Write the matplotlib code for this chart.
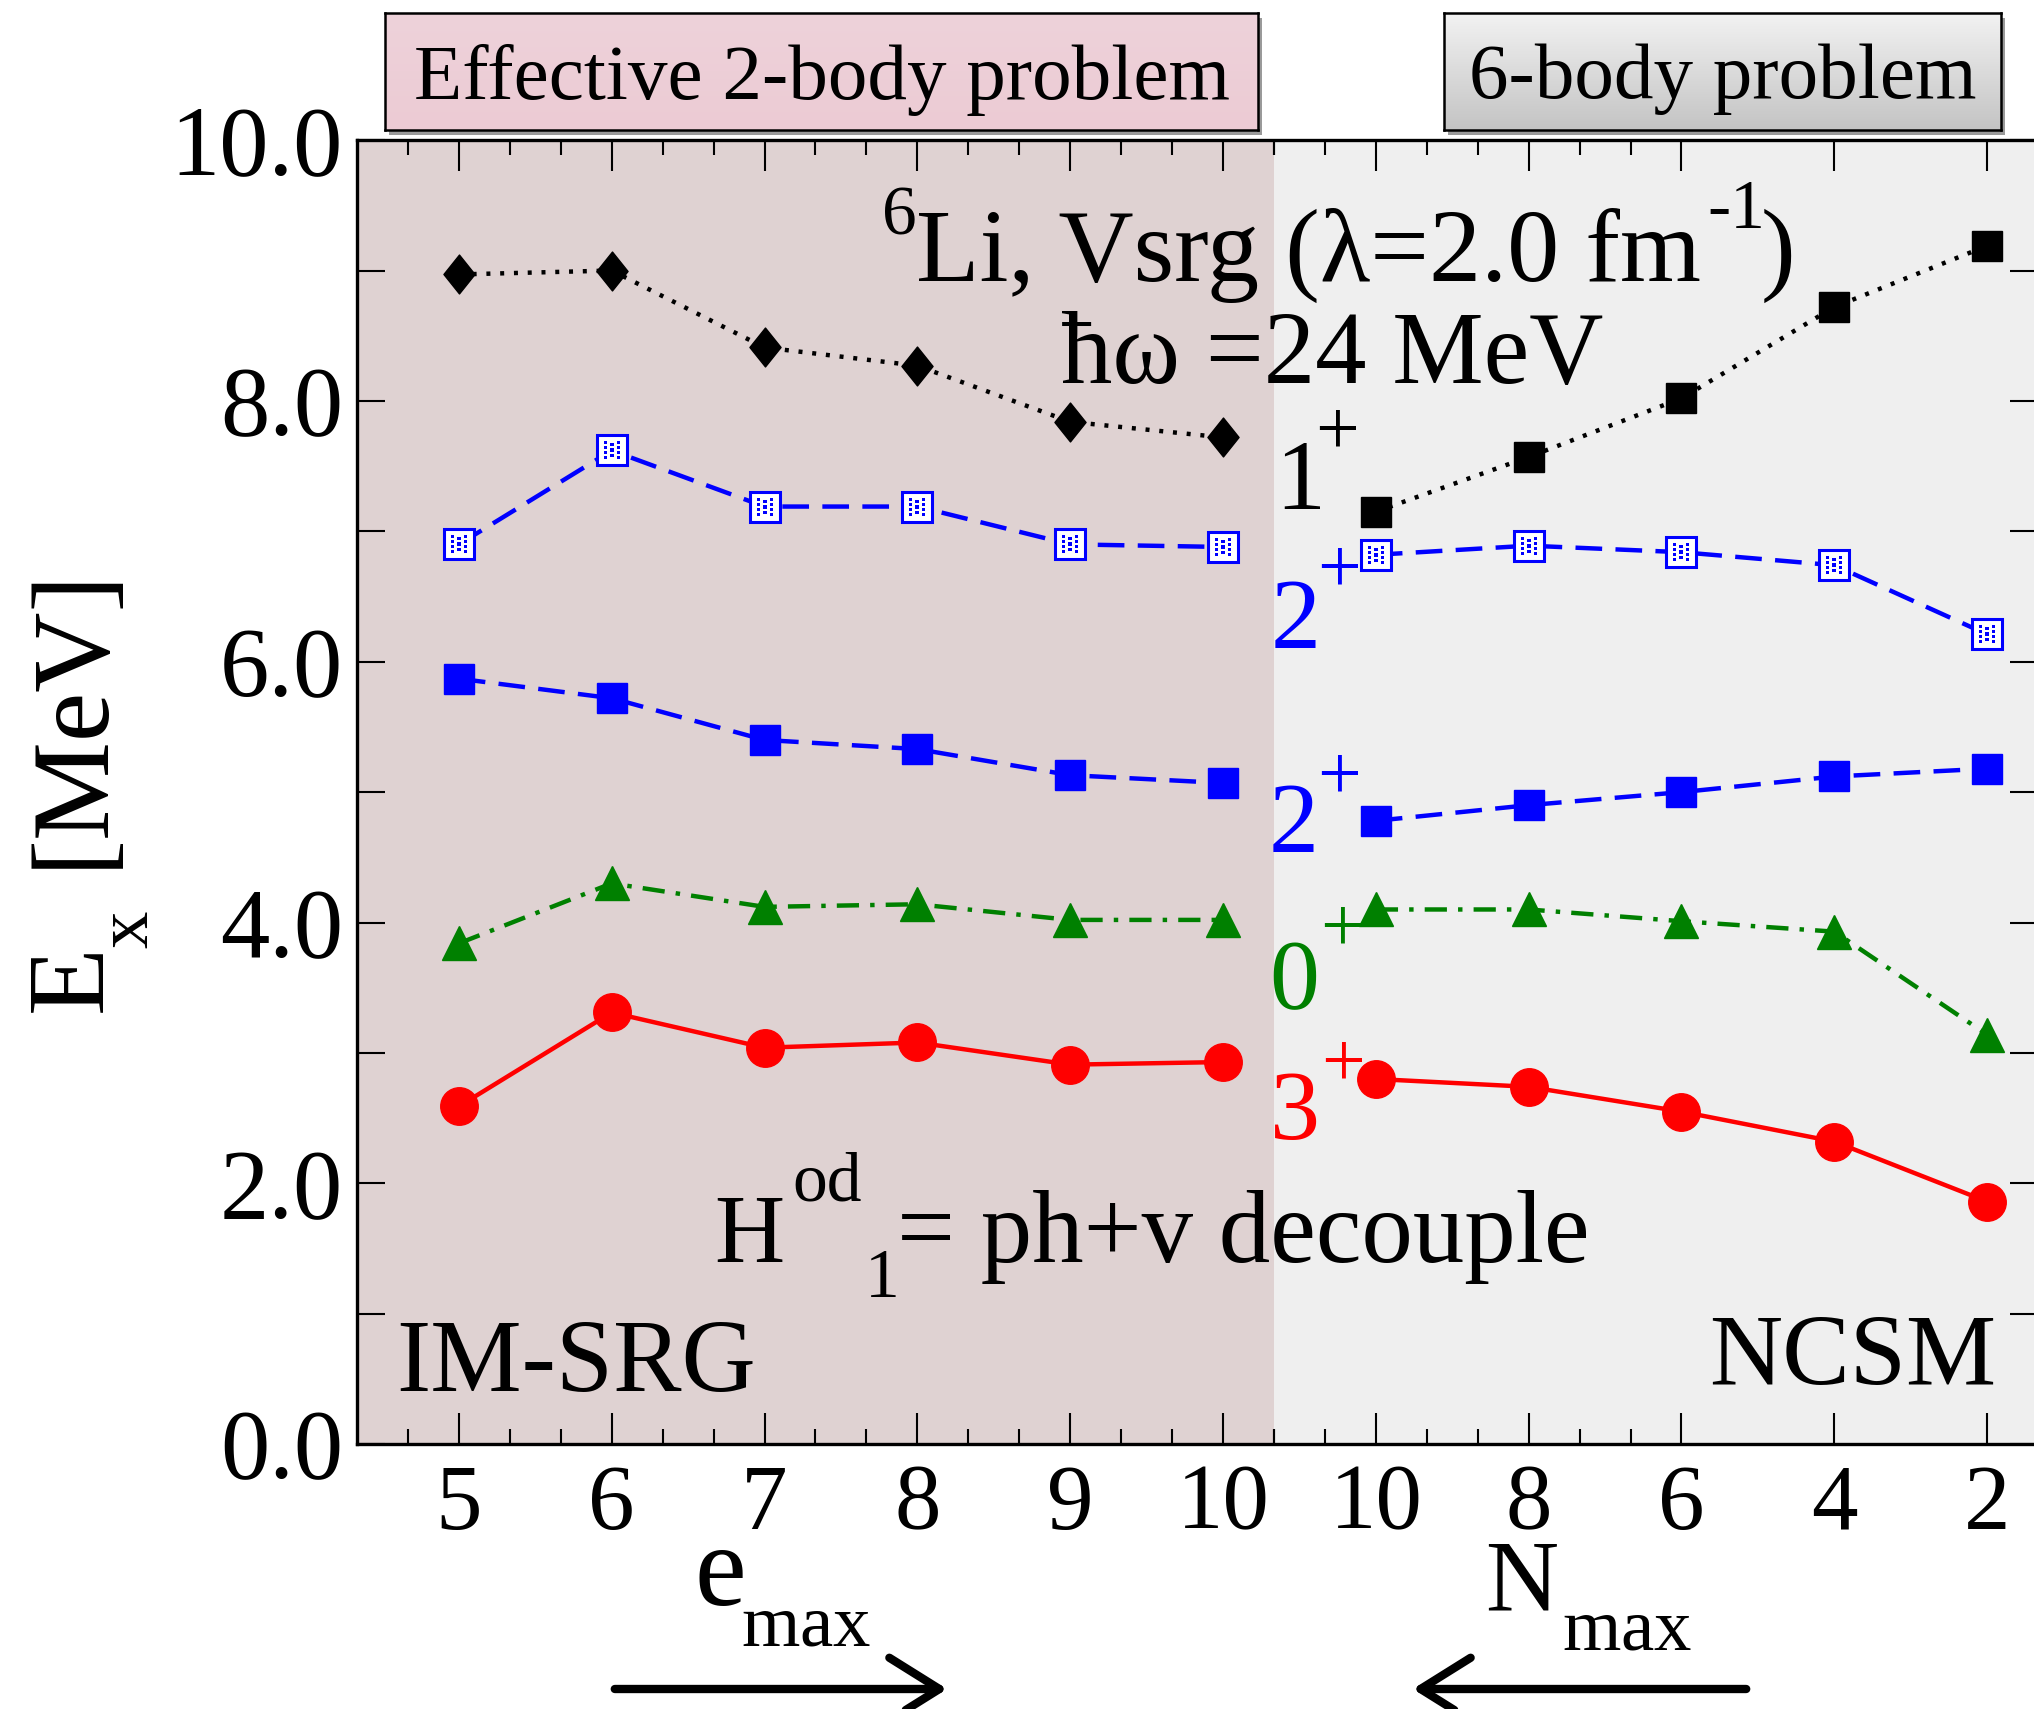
import matplotlib

matplotlib.use("Agg")
import matplotlib.pyplot as plt
import numpy as np
from matplotlib.path import Path
from matplotlib.patches import Rectangle, FancyArrowPatch

plt.rcParams["font.family"] = ["Liberation Serif", "DejaVu Serif"]
plt.rcParams["mathtext.fontset"] = "custom"
plt.rcParams["mathtext.rm"] = "Liberation Serif"
plt.rcParams["mathtext.it"] = "Liberation Serif:italic"
plt.rcParams["mathtext.bf"] = "Liberation Serif:bold"

# x categories: IM-SRG e_max (left) then NCSM N_max (right)
emax = [5, 6, 7, 8, 9, 10]
nmax = [10, 8, 6, 4, 2]
tick_labels = [str(v) for v in emax + nmax]

# IM-SRG excitation energies (MeV)
imsrg_1p = [8.97, 9.00, 8.41, 8.27, 7.84, 7.72]
imsrg_2p_b = [6.90, 7.62, 7.19, 7.19, 6.90, 6.88]
imsrg_2p_a = [5.87, 5.72, 5.40, 5.33, 5.13, 5.07]
imsrg_0p = [3.84, 4.30, 4.12, 4.14, 4.02, 4.02]
imsrg_3p = [2.59, 3.31, 3.04, 3.08, 2.91, 2.93]

# NCSM excitation energies (MeV)
ncsm_1p = [7.15, 7.57, 8.02, 8.72, 9.19]
ncsm_2p_b = [6.82, 6.89, 6.84, 6.74, 6.21]
ncsm_2p_a = [4.78, 4.90, 5.00, 5.12, 5.18]
ncsm_0p = [4.10, 4.10, 4.01, 3.93, 3.14]
ncsm_3p = [2.80, 2.74, 2.55, 2.32, 1.86]

LEFT_BG = "#dfd2d2"
RIGHT_BG = "#efefef"
W, H = 2034, 1709


def dots_marker():
    verts, codes = [], []
    d = 0.06
    for cx, cy in [(-0.25, -0.3), (0.0, -0.2), (0.25, -0.3), (-0.25, -0.1), (0.0, 0.0),
                   (0.25, -0.1), (-0.25, 0.1), (0.0, 0.2), (0.25, 0.1), (-0.25, 0.3),
                   (0.25, 0.3)]:
        verts += [(cx - d, cy - d), (cx + d, cy - d), (cx + d, cy + d), (cx - d, cy + d), (0, 0)]
        codes += [Path.MOVETO, Path.LINETO, Path.LINETO, Path.LINETO, Path.CLOSEPOLY]
    return Path(verts, codes)


DIAMOND = Path([(0, 1), (0.8, 0), (0, -1), (-0.8, 0), (0, 1)],
               [Path.MOVETO, Path.LINETO, Path.LINETO, Path.LINETO, Path.CLOSEPOLY])

fig = plt.figure(figsize=(W / 100, H / 100), dpi=100)
ax = fig.add_axes([0.1755, 0.155, 0.8265, 0.763])
ax.set_facecolor(RIGHT_BG)

x_left = np.arange(len(emax))
x_right = np.arange(len(emax), len(emax) + len(nmax))
split = len(emax) - 1 + 1 / 3
ax.axvspan(-2 / 3, split, color=LEFT_BG, zorder=0, lw=0)

series = [
    (imsrg_1p, ncsm_1p, "black", (0, (0.9, 2.2)), "1p"),
    (imsrg_2p_b, ncsm_2p_b, "blue", (0, (6, 3)), "2pb"),
    (imsrg_2p_a, ncsm_2p_a, "blue", (0, (6, 3)), "2pa"),
    (imsrg_0p, ncsm_0p, "green", (0, (5, 2.5, 1, 2.5)), "0p"),
    (imsrg_3p, ncsm_3p, "red", "-", "3p"),
]
for left_vals, right_vals, color, ls, key in series:
    for xs, ys, side in ((x_left, left_vals, "L"), (x_right, right_vals, "R")):
        ax.plot(xs, ys, color=color, ls=ls, lw=3.2, zorder=2)
        if key == "1p":
            m = DIAMOND if side == "L" else "s"
            ms = 28 if side == "L" else 21
            ax.plot(xs, ys, ls="none", marker=m, ms=ms, color="black", zorder=3)
        elif key == "2pb":
            ax.plot(xs, ys, ls="none", marker="s", ms=21, mfc="white", mec="blue",
                    mew=2.2, zorder=3)
            ax.plot(xs, ys, ls="none", marker=dots_marker(), ms=13, color="blue",
                    mew=0, zorder=4)
        elif key == "2pa":
            ax.plot(xs, ys, ls="none", marker="s", ms=21, color="blue", zorder=3)
        elif key == "0p":
            ax.plot(xs, ys, ls="none", marker="^", ms=25, color="green", zorder=3)
        else:
            ax.plot(xs, ys, ls="none", marker="o", ms=27, color="red", zorder=3)

ax.set_xlim(-2 / 3, 10 + 1 / 3)
ax.set_ylim(0, 10)
ax.set_xticks(np.arange(len(tick_labels)))
ax.set_xticklabels(tick_labels)
minor_x = [i / 3 for i in range(-1, 24) if i % 3 != 0]
ax.set_xticks(minor_x + [split], minor=True)
ax.set_yticks(np.arange(0, 11, 2))
ax.set_yticklabels([f"{v:.1f}" for v in np.arange(0, 11, 2)])
ax.set_yticks(np.arange(1, 10, 2), minor=True)

ax.tick_params(axis="x", which="major", direction="in", length=22, width=1.5,
               top=True, labelsize=67, pad=14)
ax.tick_params(axis="x", which="minor", direction="in", length=11, width=1.5, top=True)
ax.tick_params(axis="y", which="both", direction="in", length=20, width=1.5,
               right=True, labelsize=71, pad=10)
for sp in ax.spines.values():
    sp.set_linewidth(2.4)
    sp.set_zorder(5)

# title lines
ax.text(2.77, 9.28, "6", fontsize=50, ha="left", va="baseline")
ax.text(2.99, 8.92, "Li, Vsrg (λ=2.0 fm", fontsize=75, ha="left", va="baseline")
ax.text(8.17, 9.33, "-1", fontsize=50, ha="left", va="baseline")
ax.text(8.52, 8.92, ")", fontsize=75, ha="left", va="baseline")
ax.text(3.94, 8.14, "ħω =24 MeV", fontsize=74, ha="left", va="baseline")

# level labels: (digit x, baseline, plus x, plus y, text, colour)
levels = [
    (5.34, 7.17, 5.74, 7.75, "1", "black"),
    (5.31, 6.11, 5.75, 6.69, "2", "blue"),
    (5.30, 4.55, 5.75, 5.10, "2", "blue"),
    (5.30, 3.34, 5.77, 3.94, "0", "green"),
    (5.31, 2.34, 5.78, 2.90, "3", "red"),
]
for dx, dy, px, py, txt, col in levels:
    ax.text(dx, dy, txt, fontsize=72, color=col, ha="left", va="baseline")
    ax.text(px, py, r"$\mathrm{+}$", fontsize=56, color=col, ha="center", va="center")

ax.text(1.67, 1.40, "H", fontsize=70, ha="left", va="baseline")
ax.text(2.18, 1.87, "od", fontsize=50, ha="left", va="baseline")
ax.text(2.66, 1.13, "1", fontsize=50, ha="left", va="baseline")
ax.text(2.87, 1.40, "= ph+v decouple", fontsize=74, ha="left", va="baseline")
ax.text(-0.41, 0.41, "IM-SRG", fontsize=74, ha="left", va="baseline")
ax.text(10.06, 0.45, "NCSM", fontsize=73, ha="right", va="baseline")

# y label, xmgrace-style subscript
rot = dict(rotation=90, rotation_mode="anchor", ha="left", va="baseline")
fig.text(101 / W, 1 - 1012 / H, "E", fontsize=80, **rot)
fig.text(147 / W, 1 - 948 / H, "x", fontsize=54, **rot)
fig.text(101 / W, 1 - 868 / H, "[MeV]", fontsize=80, **rot)

# x group labels
fig.text(694 / W, 1 - 1605 / H, r"$\mathrm{e}$", fontsize=84, ha="left", va="baseline")
fig.text(741 / W, 1 - 1645 / H, r"$\mathrm{max}$", fontsize=54, ha="left", va="baseline")
fig.text(1485 / W, 1 - 1610 / H, r"$\mathrm{N}$", fontsize=73, ha="left", va="baseline")
fig.text(1562 / W, 1 - 1650 / H, r"$\mathrm{max}$", fontsize=54, ha="left", va="baseline")

# direction arrows
arrow_kw = dict(arrowstyle="->,head_length=0.8,head_width=0.5", lw=6, color="black",
                mutation_scale=45, transform=fig.transFigure)
ya = 1 - 1689 / H
fig.add_artist(FancyArrowPatch((612 / W, ya), (950 / W, ya), **arrow_kw))
fig.add_artist(FancyArrowPatch((1749 / W, ya), (1410 / W, ya), **arrow_kw))

# header boxes
boxes = [
    (385, 1258, "Effective 2-body problem", ["#eed2da", "#eccbd4"]),
    (1444, 2001, "6-body problem", ["#f2f2f2", "#c4c4c4"]),
]
for x0, x1, label, (c_top, c_bot) in boxes:
    bx = x0 / W
    bw = (x1 - x0) / W
    by = 1 - 130 / H
    bh = 117 / H
    fig.add_artist(Rectangle((bx + 4 / W, by - 5 / H), bw, bh, transform=fig.transFigure,
                             color="#9a9a9a", lw=0, zorder=1))
    bax = fig.add_axes([bx, by, bw, bh], zorder=2)
    grad = np.linspace(0, 1, 64)[:, None]
    cmap = matplotlib.colors.LinearSegmentedColormap.from_list("g", [c_top, c_bot])
    bax.imshow(grad, aspect="auto", cmap=cmap, extent=(0, 1, 0, 1))
    bax.set_xticks([])
    bax.set_yticks([])
    for sp in bax.spines.values():
        sp.set_linewidth(1.8)
    bax.text(0.5, 0.43, label, fontsize=57, ha="center", va="center",
             transform=bax.transAxes)

fig.savefig("out.png", dpi=100)
